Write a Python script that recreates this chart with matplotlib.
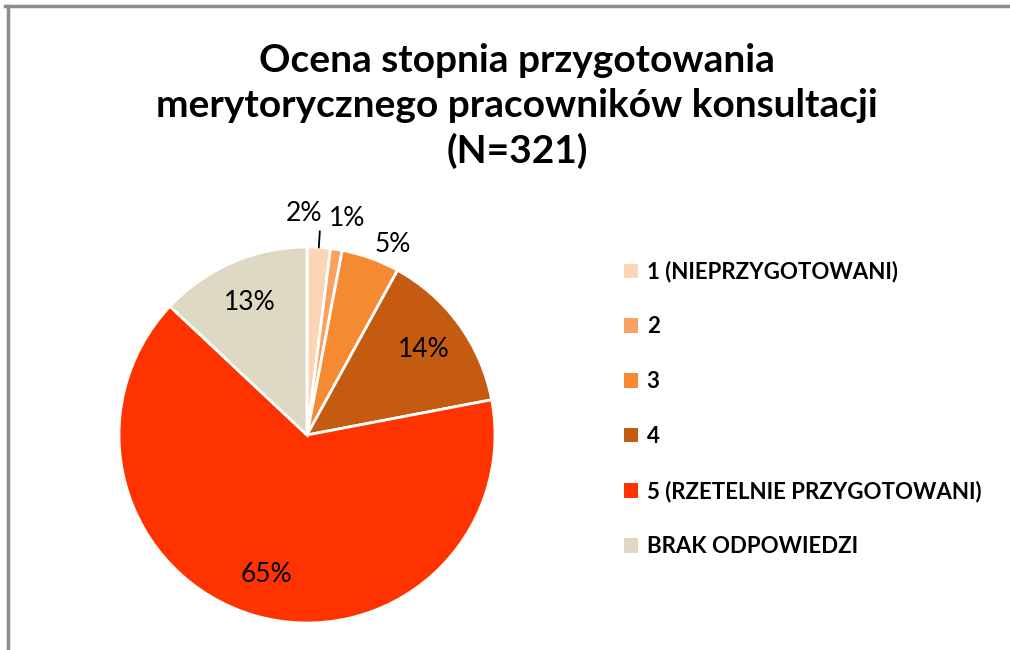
import numpy as np
import matplotlib.pyplot as plt
from matplotlib.lines import Line2D
from matplotlib.patches import Patch

# dane (w procentach)
kategorie = ['1 (NIEPRZYGOTOWANI)', '2', '3', '4',
             '5 (RZETELNIE PRZYGOTOWANI)', 'BRAK ODPOWIEDZI']
procenty = [2, 1, 5, 14, 65, 13]
kolory = ['#FCD5B5', '#FAA060', '#F58A33', '#C55A11', '#FF3300', '#DDD9C3']
tytul = 'Ocena stopnia przygotowania\nmerytorycznego pracowników konsultacji\n(N=321)'

plt.rcParams['font.family'] = ['Lato', 'DejaVu Sans']

W, H = 1010, 650
fig = plt.figure(figsize=(W / 100, H / 100), dpi=100)
fig.patch.set_facecolor('white')

# ramka (gorna i lewa krawedz widoczna)
fig.add_artist(Line2D([5 / W, 1], [1 - 6 / H, 1 - 6 / H], color='#8c8c8c', lw=2.5))
fig.add_artist(Line2D([8 / W, 8 / W], [0, 1 - 6 / H], color='#8c8c8c', lw=2.5))

fig.text(517 / W, 1 - 106 / H, tytul, ha='center', va='center',
         fontsize=28, fontweight='bold', linespacing=1.34)

# os dla kola: srodek (307, 435), promien 188 px
cx, cy, R = 307, 435, 188
ax = fig.add_axes([(cx - R) / W, (H - cy - R) / H, 2 * R / W, 2 * R / H])
wedges, _ = ax.pie(procenty, colors=kolory, startangle=90, counterclock=False,
                   wedgeprops=dict(edgecolor='white', linewidth=2))
ax.set_xlim(-1, 1)
ax.set_ylim(-1, 1)
ax.set_aspect('equal')
ax.axis('off')

# etykiety procentowe
cum = np.cumsum([0] + procenty)
mid = 90 - (cum[:-1] + np.array(procenty) / 2) / 100 * 360
for i, p in enumerate(procenty):
    a = np.deg2rad(mid[i])
    if p >= 10:
        r = 0.77
        ax.text(r * np.cos(a), r * np.sin(a), f'{p}%', ha='center', va='center',
                fontsize=19)
for i, (r, da, dx) in {0: (1.18, 0, -0.09), 1: (1.17, -1.5, 0), 2: (1.11, -4.5, 0)}.items():
    a = np.deg2rad(mid[i] + da)
    ax.text(r * np.cos(a) + dx, r * np.sin(a), f'{procenty[i]}%', ha='center',
            va='center', fontsize=19)
a0 = np.deg2rad(mid[0])
ax.plot([1.0 * np.cos(a0), 1.085 * np.cos(a0)], [1.0 * np.sin(a0), 1.085 * np.sin(a0)],
        color='black', lw=1.3, clip_on=False)

# legenda
uchwyty = [Patch(facecolor=c, edgecolor='none') for c in kolory]
fig.legend(uchwyty, kategorie, loc='upper left', bbox_to_anchor=(604 / W, 1 - 241 / H),
           frameon=False, prop=dict(weight='bold', size=16), borderpad=0.4,
           labelspacing=1.52, handlelength=0.62, handleheight=0.62, handletextpad=0.4)

fig.savefig('out.png', dpi=100)
